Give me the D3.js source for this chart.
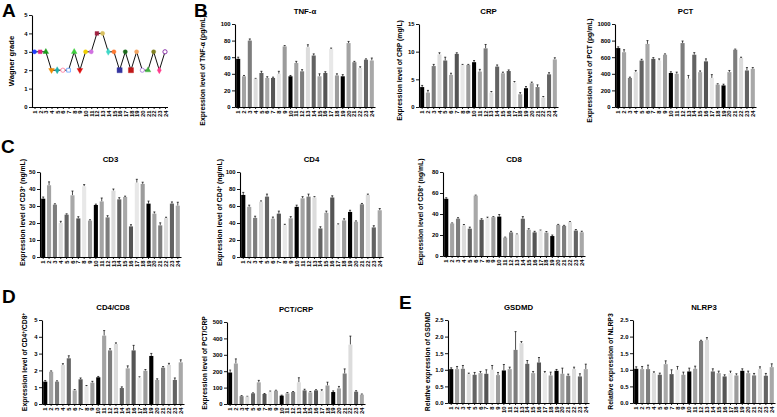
<!DOCTYPE html>
<html>
<head>
<meta charset="utf-8">
<script src="https://cdn.jsdelivr.net/npm/d3@7"></script>
<style>
  body { margin: 0; background: #fff; }
  svg { font-family: "Liberation Sans", Arial, sans-serif; font-weight: bold; }
</style>
</head>
<body>
<div id="fig"></div>
<script>
// patients 1..24
const patients = d3.range(1, 25).map(String);

// A - Wagner grade
const wagner = [3, 3, 3, 2, 2, 2, 2, 3, 2, 3, 3, 4, 4, 3, 3, 2, 3, 2, 3, 2, 2, 3, 2, 3];

// B
const tnfVals = [58, 37, 80, 34, 41, 35, 35, 40, 73, 37, 53, 43, 72, 62, 37, 41, 70, 38, 37, 77, 54, 47, 57, 56];
const tnfErr = [2, 1, 2, 0.5, 2, 1.5, 1, 3, 1, 1, 2, 2, 3, 2, 3, 1.5, 1, 2, 2, 2, 1, 1.5, 1, 3];
const crpVals = [3.6, 2.6, 7.4, 9.5, 8.4, 5.8, 9.6, 7.6, 7.6, 8.1, 6.4, 10.6, 2.6, 7.3, 6.1, 6.5, 4.4, 2.3, 3.4, 4.3, 3.6, 1.7, 5.9, 8.6];
const crpErr = [0.3, 0.4, 0.3, 0.3, 0.6, 0.3, 0.2, 0.1, 0.1, 0.3, 0.4, 0.7, 0.2, 0.3, 0.2, 0.2, 0.2, 0.3, 0.3, 0.2, 0.4, 0.2, 0.3, 0.3];
const pctVals = [710, 660, 350, 420, 560, 760, 580, 560, 630, 410, 400, 770, 340, 630, 420, 550, 350, 270, 260, 420, 690, 590, 440, 460];
const pctErr = [15, 30, 10, 20, 15, 40, 15, 20, 10, 15, 20, 25, 40, 25, 15, 30, 40, 10, 15, 20, 8, 10, 35, 15];

// C
const cd3Vals = [34.3, 42.2, 30.8, 20, 24.9, 36.3, 22.7, 41.6, 21.4, 30.6, 32.7, 23.3, 39, 33.9, 35.3, 18, 43.7, 43, 31.4, 25.5, 18.6, 22.9, 31.4, 30.2];
const cd3Err = [1, 2, 0.5, 1, 0.5, 2.5, 1, 1, 0.5, 0.5, 2, 1, 1, 1, 0.5, 1, 2, 1, 1.5, 1, 1.5, 0.5, 1, 2];
const cd4Vals = [73, 59, 46, 65, 71, 45, 51, 37.5, 45.5, 59, 69, 71, 70, 33.6, 52, 70, 38, 43, 53, 41.5, 62, 73, 34.8, 55];
const cd4Err = [3, 2, 2, 1, 3, 2, 3, 1, 2, 2, 2, 3, 1, 2, 2, 2, 1, 2, 2, 1, 1, 1, 2, 2];
const cd8Vals = [54.5, 31, 35.5, 29, 26, 57.5, 34.5, 36, 37, 37.5, 17.5, 22.5, 20.5, 35.5, 25, 22.5, 24.2, 22.3, 19, 29.6, 28.7, 32.2, 24.2, 22.6];
const cd8Err = [1, 0.5, 1, 1, 1.5, 0.5, 1, 1, 0.5, 2, 0.5, 1, 0.5, 2, 1, 1, 0.5, 1, 1, 0.5, 0.5, 0.5, 1, 1];

// D
const ratioVals = [1.33, 1.92, 1.33, 2.32, 2.72, 0.81, 1.47, 1.05, 1.27, 1.59, 4.07, 3.19, 3.57, 0.95, 2.12, 3.19, 1.57, 1.98, 2.86, 1.43, 2.16, 2.32, 1.43, 2.48];
const ratioErr = [0.07, 0.05, 0.05, 0.08, 0.15, 0.05, 0.08, 0.05, 0.08, 0.05, 0.3, 0.1, 0.07, 0.07, 0.15, 0.3, 0.05, 0.07, 0.15, 0.07, 0.07, 0.1, 0.12, 0.15];
const pctCrpVals = [192, 247, 48, 45, 65, 132, 61, 75, 81, 51, 65, 73, 132, 83, 71, 83, 79, 113, 73, 95, 186, 362, 75, 57];
const pctCrpErr = [15, 28, 3, 2, 3, 12, 3, 4, 3, 3, 5, 3, 28, 7, 5, 4, 8, 20, 7, 12, 28, 52, 6, 4];

// E
const gsdmdVals = [1.02, 1.02, 1.03, 0.87, 0.85, 0.9, 0.88, 1.0, 0.84, 0.98, 1.02, 1.6, 1.8, 1.18, 0.9, 1.22, 0.9, 0.83, 0.97, 0.88, 0.82, 1.02, 0.8, 1.02];
const gsdmdErr = [0.04, 0.08, 0.1, 0.03, 0.07, 0.05, 0.12, 0.13, 0.08, 0.18, 0.06, 0.55, 0.05, 0.1, 0.05, 0.15, 0.05, 0.1, 0.04, 0.17, 0.05, 0.06, 0.08, 0.15];
const nlrp3Vals = [1.03, 1.02, 1.02, 0.9, 0.85, 1.17, 0.87, 1.0, 0.85, 0.95, 1.03, 1.87, 1.9, 0.95, 0.9, 0.8, 0.9, 0.83, 0.97, 0.9, 0.83, 1.02, 0.82, 1.08];
const nlrp3Err = [0.06, 0.08, 0.12, 0.04, 0.05, 0.1, 0.13, 0.1, 0.08, 0.1, 0.08, 0.02, 0.07, 0.08, 0.06, 0.05, 0.06, 0.05, 0.06, 0.06, 0.06, 0.07, 0.07, 0.1];

// grey cycle of the bars (repeats every 9 patients)
const greys = ['#000000', '#a3a3a3', '#7d7d7d', '#dcdcdc', '#636363', '#a8a8a8', '#555555', '#e8e8e8', '#9c9c9c'];

// marker styles for panel A
const markColors = ['#1f3fff', '#e0207f', '#1a9e1a', '#f08a00', '#20b0a8', '#ff7fa0', '#6fa8ff', '#3ccf3c', '#e01010', '#f0d000',
  '#d070e0', '#a02040', '#d8c060', '#40d8c8', '#ff7830', '#3434a0', '#1a6a1a', '#c01818', '#f4a460', '#b080e0',
  '#40b040', '#808020', '#ff3c8c', '#8020a0'];
const markShapes = ['circle', 'square', 'triangle', 'down', 'diamond', 'ocircle', 'osquare', 'triangle', 'down', 'circle',
  'circle', 'square', 'circle', 'diamond', 'circle', 'bsquare', 'circle', 'bsquare', 'circle', 'ocircle',
  'triangle', 'circle', 'diamond', 'ocircle'];

const W = 777, H = 417;
const svg = d3.select('#fig').append('svg').attr('width', W).attr('height', H);

function panelLetter(t, x, y) {
  svg.append('text').attr('x', x).attr('y', y).attr('font-size', 19).attr('font-weight', 'bold').text(t);
}

// y label with "⁺" rendered as a small raised plus
function yLabel(g, text, x, yc, size) {
  const t = g.append('text')
    .attr('transform', `translate(${x},${yc}) rotate(-90)`)
    .attr('text-anchor', 'middle')
    .attr('font-size', size || 6.8);
  const parts = text.split('⁺');
  parts.forEach((p, i) => {
    t.append('tspan').attr('dy', i === 0 ? 0 : 2).text(p);
    if (i < parts.length - 1) t.append('tspan').attr('dy', -2).attr('font-size', 4.6).text('+');
  });
}

function styleAxis(a) {
  a.select('.domain').attr('stroke', '#000').attr('stroke-width', 1.1);
  a.selectAll('.tick line').attr('stroke', '#000').attr('stroke-width', 0.9);
  a.selectAll('text').attr('font-family', null).attr('font-size', 5.9).attr('font-weight', 'bold').attr('fill', '#000');
  a.attr('font-family', null).attr('font-size', null);
}

function xLabels(a) {
  a.selectAll('text')
    .attr('transform', 'rotate(-90)')
    .attr('text-anchor', 'end')
    .attr('x', -3.5)
    .attr('y', 0)
    .attr('dy', '0.35em');
}

function barPanel(cfg) {
  const g = svg.append('g');
  const x = d3.scaleBand().domain(patients).range([cfg.x0, cfg.x1]).paddingInner(0.3).paddingOuter(0.2);
  const y = d3.scaleLinear().domain([0, cfg.max]).range([cfg.yBot, cfg.yTop]);
  const rows = patients.map((p, i) => ({ p, i, v: cfg.vals[i], e: cfg.errs[i] }));

  // error bars
  const eb = g.selectAll('.err').data(rows).enter().append('g').attr('class', 'err')
    .attr('stroke', '#000').attr('stroke-width', 0.7);
  eb.append('line')
    .attr('x1', (d) => x(d.p) + x.bandwidth() / 2).attr('x2', (d) => x(d.p) + x.bandwidth() / 2)
    .attr('y1', (d) => y(d.v)).attr('y2', (d) => y(d.v + d.e));
  eb.append('line')
    .attr('x1', (d) => x(d.p) + x.bandwidth() * 0.25).attr('x2', (d) => x(d.p) + x.bandwidth() * 0.75)
    .attr('y1', (d) => y(d.v + d.e)).attr('y2', (d) => y(d.v + d.e));

  g.selectAll('.bar').data(rows).enter().append('rect').attr('class', 'bar')
    .attr('x', (d) => x(d.p)).attr('width', x.bandwidth())
    .attr('y', (d) => y(d.v)).attr('height', (d) => y(0) - y(d.v))
    .attr('fill', (d) => greys[d.i % 9]);

  const ya = g.append('g').attr('transform', `translate(${cfg.x0},0)`)
    .call(d3.axisLeft(y).tickValues(d3.range(0, cfg.max + cfg.step / 2, cfg.step)).tickFormat(cfg.fmt)
      .tickSize(3).tickSizeOuter(0).tickPadding(1.5));
  styleAxis(ya);

  const xa = g.append('g').attr('transform', `translate(0,${cfg.yBot})`)
    .call(d3.axisBottom(x).tickSize(2).tickSizeOuter(0));
  styleAxis(xa);
  xLabels(xa);

  g.append('text').attr('x', (cfg.x0 + cfg.x1) / 2).attr('y', cfg.yTop - 10)
    .attr('text-anchor', 'middle').attr('font-size', 7.8).text(cfg.title);
  yLabel(g, cfg.ylab, cfg.labX, (cfg.yTop + cfg.yBot) / 2 + (cfg.labDy || 0));
}

// ---------- Panel A ----------
(function () {
  const g = svg.append('g');
  const x = d3.scalePoint().domain(patients).range([34.5, 165]);
  const y = d3.scaleLinear().domain([0, 5]).range([107, 15]);
  const ya = g.append('g').attr('transform', 'translate(32,0)')
    .call(d3.axisLeft(y).ticks(5).tickFormat(d3.format('d')).tickSize(3).tickSizeOuter(0).tickPadding(1.5));
  styleAxis(ya);
  const xa = g.append('g').attr('transform', 'translate(0,107)')
    .call(d3.axisBottom(x).tickSize(2).tickSizeOuter(0));
  xa.select('.domain').attr('d', 'M32,0.5H168');
  styleAxis(xa);
  xLabels(xa);

  g.append('path').datum(wagner)
    .attr('fill', 'none').attr('stroke', '#111').attr('stroke-width', 1)
    .attr('d', d3.line().x((d, i) => x(patients[i])).y((d) => y(d)));

  const sym = {
    circle: d3.symbolCircle, ocircle: d3.symbolCircle, square: d3.symbolSquare, osquare: d3.symbolSquare,
    bsquare: d3.symbolSquare, triangle: d3.symbolTriangle, down: d3.symbolTriangle, diamond: d3.symbolDiamond
  };
  g.selectAll('.mk').data(wagner).enter().append('path').attr('class', 'mk')
    .attr('transform', (d, i) => `translate(${x(patients[i])},${y(d)})` + (markShapes[i] === 'down' ? ' rotate(180)' : ''))
    .attr('d', (d, i) => d3.symbol(sym[markShapes[i]], markShapes[i] === 'bsquare' ? 26 : 14)())
    .attr('fill', (d, i) => (markShapes[i][0] === 'o' ? '#fff' : markColors[i]))
    .attr('stroke', (d, i) => markColors[i])
    .attr('stroke-width', (d, i) => (markShapes[i][0] === 'o' ? 0.9 : 0.4));

  yLabel(g, 'Wagner grade', 14, 61, 7.6);
})();

panelLetter('A', 2, 17);
panelLetter('B', 194, 17);
panelLetter('C', 1, 153);
panelLetter('D', 2, 303);
panelLetter('E', 399, 309);

// ---------- Panel B ----------
barPanel({ vals: tnfVals, errs: tnfErr, x0: 235, x1: 375, yTop: 24, yBot: 107, max: 100, step: 20, fmt: d3.format('d'),
  title: 'TNF-α', ylab: 'Expression level of TNF-α (pg/mL)', labX: 205, labDy: 5 });
barPanel({ vals: crpVals, errs: crpErr, x0: 419, x1: 558, yTop: 24, yBot: 107, max: 15, step: 5, fmt: d3.format('d'),
  title: 'CRP', ylab: 'Expression level of CRP (mg/L)', labX: 402, labDy: 5 });
barPanel({ vals: pctVals, errs: pctErr, x0: 615, x1: 756, yTop: 24, yBot: 107, max: 1000, step: 200, fmt: d3.format('d'),
  title: 'PCT', ylab: 'Expression level of PCT (pg/mL)', labX: 592, labDy: 5 });

// ---------- Panel C ----------
barPanel({ vals: cd3Vals, errs: cd3Err, x0: 40, x1: 181, yTop: 172, yBot: 257, max: 50, step: 10, fmt: d3.format('d'),
  title: 'CD3', ylab: 'Expression level of CD3⁺ (ng/mL)', labX: 25, labDy: -2 });
barPanel({ vals: cd4Vals, errs: cd4Err, x0: 240, x1: 383, yTop: 172, yBot: 257, max: 100, step: 20, fmt: d3.format('d'),
  title: 'CD4', ylab: 'Expression level of CD4⁺ (ng/mL)', labX: 222, labDy: -2 });
barPanel({ vals: cd8Vals, errs: cd8Err, x0: 443, x1: 585, yTop: 172, yBot: 256, max: 80, step: 20, fmt: d3.format('d'),
  title: 'CD8', ylab: 'Expression level of CD8⁺ (ng/mL)', labX: 423, labDy: -2 });

// ---------- Panel D ----------
barPanel({ vals: ratioVals, errs: ratioErr, x0: 42, x1: 184, yTop: 320, yBot: 404, max: 5, step: 1, fmt: d3.format('d'),
  title: 'CD4/CD8', ylab: 'Expression level of CD4⁺/CD8⁺', labX: 27, labDy: 0 });
barPanel({ vals: pctCrpVals, errs: pctCrpErr, x0: 227, x1: 365, yTop: 322, yBot: 404, max: 500, step: 100, fmt: d3.format('d'),
  title: 'PCT/CRP', ylab: 'Expression level of PCT/CRP', labX: 207, labDy: 0 });

// ---------- Panel E ----------
barPanel({ vals: gsdmdVals, errs: gsdmdErr, x0: 448, x1: 589, yTop: 320, yBot: 403, max: 2.5, step: 0.5, fmt: d3.format('.1f'),
  title: 'GSDMD', ylab: 'Relative expression of GSDMD', labX: 430, labDy: 0 });
barPanel({ vals: nlrp3Vals, errs: nlrp3Err, x0: 633, x1: 775, yTop: 320, yBot: 403, max: 2.5, step: 0.5, fmt: d3.format('.1f'),
  title: 'NLRP3', ylab: 'Relative expression of NLRP3', labX: 613, labDy: 0 });
</script>
</body>
</html>
